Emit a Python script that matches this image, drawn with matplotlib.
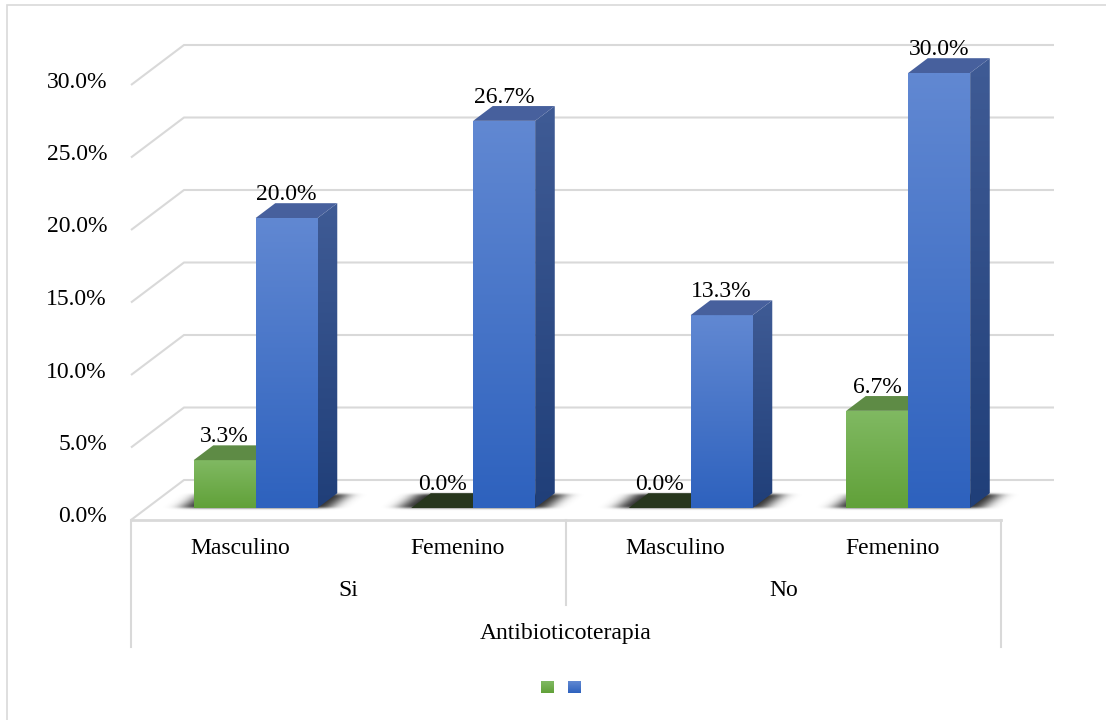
import numpy as np
import matplotlib
matplotlib.use("Agg")
import matplotlib.pyplot as plt
from matplotlib.patches import Polygon, Rectangle
from matplotlib.path import Path
from matplotlib.colors import to_rgb

plt.rcParams['font.family'] = ['Liberation Serif', 'DejaVu Serif']

# ---- data ----
sexo = ['Masculino', 'Femenino', 'Masculino', 'Femenino']
grupos = ['Si', 'No']
titulo_eje = 'Antibioticoterapia'
serie_verde = [3.3, 0.0, 0.0, 6.7]
serie_azul = [20.0, 26.7, 13.3, 30.0]
ticks = [0, 5, 10, 15, 20, 25, 30]

# ---- layout (pixel geometry of the oblique 3D frame) ----
W, H = 1106, 720
PXC = 217.5          # pixels per category
PXV = 14.5           # pixels per percentage point
X0PX, Y0PX = 131, 520  # front-left corner of the floor
DX = 53 / PXC        # depth offset of the back wall (data units)
DY = 40 / PXV
D0, D1 = 0.30, 0.67  # bar depth range (fraction of floor depth)
BW = 62 / PXC        # width of one bar
FS = 17
GRID = '#d9d9d9'


def px2x(px):
    return (px - X0PX) / PXC


def py2y(py):
    return (Y0PX - py) / PXV


fig = plt.figure(figsize=(W / 100, H / 100), dpi=100)
ax = fig.add_axes([0, 0, 1, 1])
ax.axis('off')
XLIM = (px2x(0), px2x(W))
YLIM = (py2y(H), py2y(0))


def grad_poly(verts, c_top, c_bot, zorder):
    poly = Polygon(verts, closed=True, facecolor='none', edgecolor='none', zorder=zorder)
    ax.add_patch(poly)
    xs = [p[0] for p in verts]
    ys = [p[1] for p in verts]
    if max(ys) - min(ys) < 1e-9:
        return
    t = np.linspace(0, 1, 64)[:, None]
    ct = np.array(to_rgb(c_top))
    cb = np.array(to_rgb(c_bot))
    img = (ct * (1 - t) + cb * t)[:, None, :]
    im = ax.imshow(img, extent=(min(xs), max(xs), min(ys), max(ys)), origin='upper',
                   aspect='auto', zorder=zorder, interpolation='bilinear')
    im.set_clip_path(poly)


def proj(x, v, d):
    return (x + d * DX, v + d * DY)


# ---- walls: gridlines with oblique left edge ----
for t in ticks:
    pts = [proj(0, t, 0), proj(0, t, 1), proj(4, t, 1)]
    ax.plot([p[0] for p in pts], [p[1] for p in pts], color=GRID, lw=1.5,
            solid_capstyle='butt', zorder=1)
    ax.text(px2x(107), t + 3 / PXV, f'{t:.1f}%', ha='right', va='center', fontsize=FS)

# ---- soft shadows on the floor ----
r0, r1 = 460, 540
gy, gx = np.mgrid[r0:r1, 0:W] + 0.5
pts_px = np.column_stack([gx.ravel(), gy.ravel()])
mask = np.zeros(gx.shape)
for i in range(4):
    c = i + 0.5
    xa, xb = c - BW - 12 / PXC, c + BW + 12 / PXC
    quad = [proj(xa, 0, D0), proj(xb, 0, D0), proj(xb, 0, D1 - 0.03), proj(xa, 0, D1 - 0.03)]
    quad_px = [(X0PX + q[0] * PXC, Y0PX - q[1] * PXV) for q in quad]
    mask = np.maximum(mask, Path(quad_px).contains_points(pts_px).reshape(gx.shape).astype(float))


def blur(a, sigma, axis):
    k = np.arange(-int(3 * sigma), int(3 * sigma) + 1)
    g = np.exp(-0.5 * (k / sigma) ** 2)
    g /= g.sum()
    return np.apply_along_axis(lambda r: np.convolve(r, g, mode='same'), axis, a)


sh = blur(blur(mask, 8.0, 1), 1.2, 0)
shadow = np.zeros(sh.shape + (4,))
shadow[..., :3] = 0.12
shadow[..., 3] = np.clip(sh * 0.95, 0, 1)
ax.imshow(shadow, extent=(px2x(0), px2x(W), py2y(r1), py2y(r0)), origin='upper',
          aspect='auto', zorder=2, interpolation='bilinear')

# ---- bars ----
STYLES = {
    'verde': dict(front=('#80b962', '#61a139'), side=('#4f7a36', '#3d6629'), top='#5e8b45', zero='#27361d'),
    'azul': dict(front=('#6188d2', '#2e62be'), side=('#3f5b95', '#203f79'), top='#47609d', zero='#203f79'),
}


def bar3d(xa, xb, v, st, z):
    if v <= 0:
        top = [proj(xa, 0, D0), proj(xb, 0, D0), proj(xb, 0, D1), proj(xa, 0, D1)]
        ax.add_patch(Polygon(top, closed=True, facecolor=st['zero'], edgecolor='none', zorder=z))
        return
    front = [proj(xa, 0, D0), proj(xb, 0, D0), proj(xb, v, D0), proj(xa, v, D0)]
    side = [proj(xb, 0, D0), proj(xb, 0, D1), proj(xb, v, D1), proj(xb, v, D0)]
    top = [proj(xa, v, D0), proj(xb, v, D0), proj(xb, v, D1), proj(xa, v, D1)]
    grad_poly(side, *st['side'], z)
    grad_poly(front, *st['front'], z + 0.1)
    ax.add_patch(Polygon(top, closed=True, facecolor=st['top'], edgecolor='none', zorder=z + 0.1))


def label(xa, xb, v):
    x = (xa + xb) / 2 + D0 * DX
    y = v + D1 * DY + 3 / PXV
    ax.text(x, y, f'{v:.1f}%', ha='center', va='baseline', fontsize=FS, zorder=10)


for i in range(4):
    c = i + 0.5
    bar3d(c - BW, c, serie_verde[i], STYLES['verde'], 3 + i)
    bar3d(c, c + BW, serie_azul[i], STYLES['azul'], 3.5 + i)
for i in range(4):
    c = i + 0.5
    label(c - BW, c, serie_verde[i])
    label(c, c + BW, serie_azul[i])

# ---- category axis box ----
ax.plot([0, 4], [0, 0], color=GRID, lw=2, zorder=1)
ax.plot([0, 0], [0, py2y(647)], color=GRID, lw=1.5, zorder=1)
ax.plot([2, 2], [0, py2y(605)], color=GRID, lw=1.5, zorder=1)
ax.plot([4, 4], [0, py2y(647)], color=GRID, lw=1.5, zorder=1)

for i, s in enumerate(sexo):
    ax.text(i + 0.5, py2y(549), s, ha='center', va='center', fontsize=FS)
for j, g in enumerate(grupos):
    ax.text(2 * j + 1, py2y(590), g, ha='center', va='center', fontsize=FS)
ax.text(2, py2y(634), titulo_eje, ha='center', va='center', fontsize=FS)

# ---- legend markers (no text) ----
for k, key in enumerate(['verde', 'azul']):
    x0 = px2x(541 + 27 * k)
    x1 = px2x(554 + 27 * k)
    y0, y1 = py2y(693), py2y(681)
    grad_poly([(x0, y0), (x1, y0), (x1, y1), (x0, y1)], *STYLES[key]['front'], 5)

# ---- chart border ----
ax.add_patch(Rectangle((px2x(7), py2y(730)), px2x(1115) - px2x(7), py2y(5) - py2y(730),
                       facecolor='none', edgecolor=GRID, lw=1.2, zorder=0))

ax.set_xlim(*XLIM)
ax.set_ylim(*YLIM)
fig.savefig('out.png', dpi=100)
